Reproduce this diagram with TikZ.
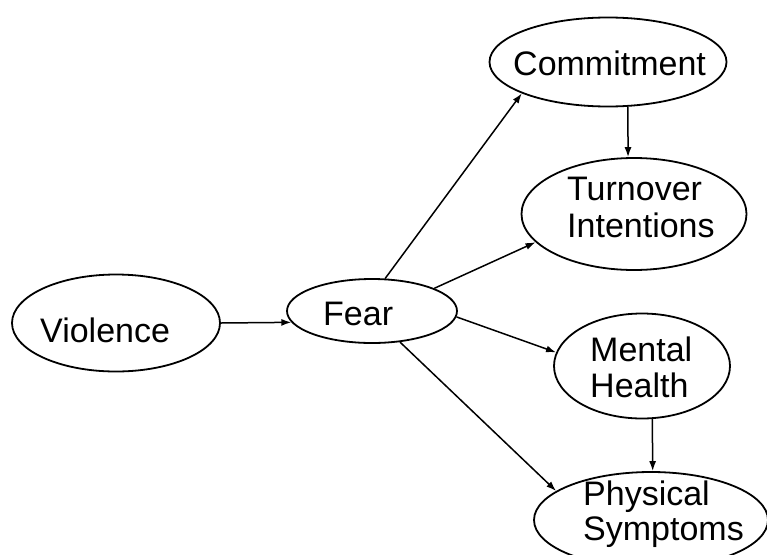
\documentclass[tikz,border=0pt]{standalone}
\usepackage{fontspec}
\setmainfont{Liberation Sans}
\usetikzlibrary{shapes.geometric,arrows.meta}
\begin{document}
\begin{tikzpicture}[x=1pt,y=-1pt,
  ell/.style={draw, ellipse, line width=1.8pt, inner sep=0pt},
  lbl/.style={anchor=base west, align=left, inner sep=0pt},
  conn/.style={line width=1.5pt, -{Latex[length=10pt,width=7pt]}}]
\fill[white] (0,0) rectangle (767,554);
\clip (0,0) rectangle (767,554);
% ellipses
\node[ell, minimum width=237pt, minimum height=89pt]  (comm) at (608,62) {};
\node[ell, minimum width=225pt, minimum height=112pt] (turn) at (634,214) {};
\node[ell, minimum width=208pt, minimum height=97pt]  (viol) at (116,323) {};
\node[ell, minimum width=170pt, minimum height=64pt]  (fear) at (372,311) {};
\node[ell, minimum width=176pt, minimum height=105pt] (ment) at (642,366) {};
\node[ell, minimum width=234pt, minimum height=96pt]  (phys) at (651,520) {};
% texts (base = baseline of the last line)
\node[lbl, font=\fontsize{34}{37}\selectfont] (commT) at (513,75) {Commitment};
\node[lbl, font=\fontsize{34}{37}\selectfont] (turnT) at (567,237) {Turnover\\Intentions};
\node[lbl, font=\fontsize{34}{37}\selectfont] (violT) at (40,342) {Violence};
\node[lbl, font=\fontsize{34}{37}\selectfont] (fearT) at (323,325) {Fear};
\node[lbl, font=\fontsize{34}{36}\selectfont] (mentT) at (590,397) {Mental\\Health};
\node[lbl, font=\fontsize{34}{35}\selectfont] (physT) at (583,540) {Physical\\Symptoms};
% connectors
\draw[conn] (viol.east) -- (fear.188);
\draw[conn] (fear.68) -- (comm.200);
\draw[conn] (fear.20) -- (turn.196);
\draw[conn] (fear.356) -- (ment.171);
\draw[conn] (fear.312) -- (phys.163);
\draw[conn] (comm.294) -- (turn.96);
\draw[conn] (ment.281) -- (phys.88);
\end{tikzpicture}
\end{document}
